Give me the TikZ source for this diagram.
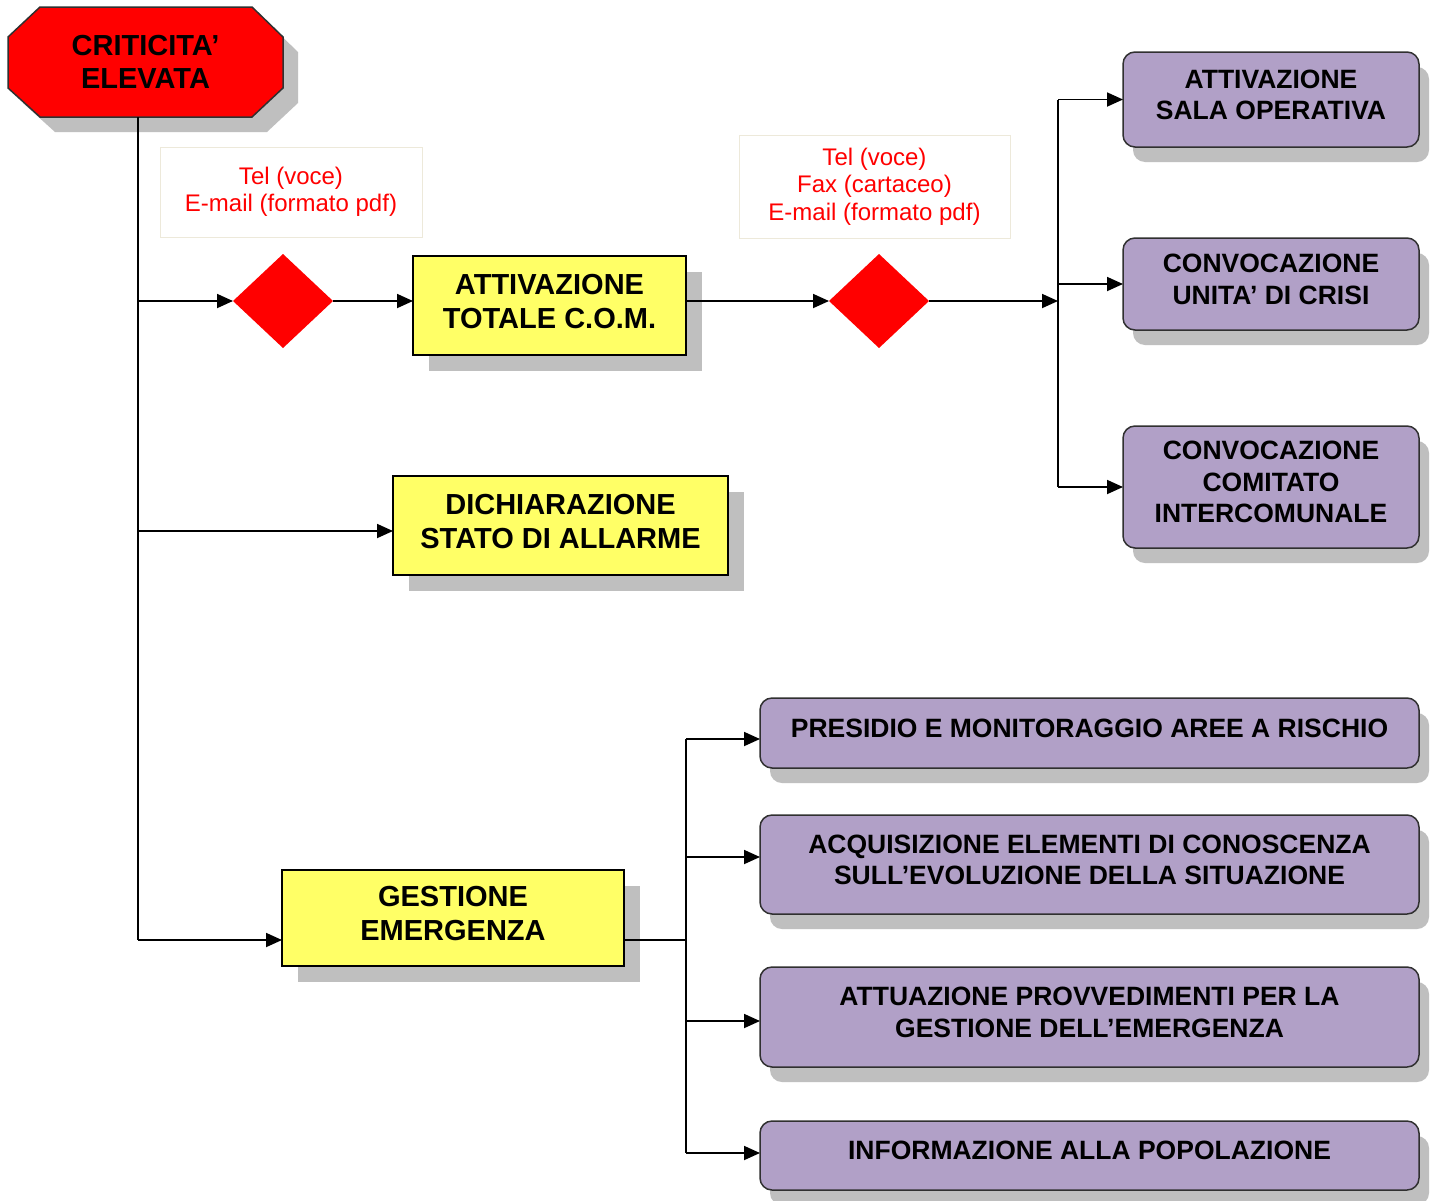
\documentclass[tikz,border=0pt]{standalone}
\usepackage{fontspec}
\setmainfont{Liberation Sans}
\usetikzlibrary{shapes.geometric,arrows.meta,calc}
\definecolor{shad}{HTML}{BFBFBF}
\definecolor{yel}{HTML}{FFFF66}
\definecolor{purp}{HTML}{B1A0C7}
\definecolor{lblborder}{HTML}{EDE9DA}
\definecolor{bord}{HTML}{303030}
\begin{document}
\begin{tikzpicture}[x=1pt,y=-1pt,
  conn/.style={draw=black,line width=1.8pt},
  arr/.style={conn,-{Triangle[length=16pt,width=14pt]}},
  ybox/.style={draw=black,line width=1.5pt,fill=yel,inner sep=0pt,outer sep=0pt,align=center,
     font=\fontsize{29}{34}\selectfont\bfseries,text depth=9pt,
     preaction={fill=shad,draw=none,transform canvas={xshift=16pt,yshift=-16pt}}},
  pbox/.style={draw=bord,line width=1.5pt,fill=purp,rounded corners=12pt,inner sep=0pt,outer sep=0pt,align=center,
     font=\fontsize{26.5}{31.5}\selectfont\bfseries,text depth=10pt,
     preaction={fill=shad,draw=none,transform canvas={xshift=10pt,yshift=-15pt}}},
  lbl/.style={draw=lblborder,line width=1pt,text=red,inner sep=0pt,align=center,
     font=\fontsize{24}{27.5}\selectfont},
  dia/.style={shape=diamond,fill=red,draw=none,inner sep=0pt,outer sep=0pt,minimum width=100pt,minimum height=94pt}
]
\useasboundingbox (0,0) rectangle (1435,1200);
\fill[white] (0,0) rectangle (1435,1200);

% octagon
\fill[shad] (55,22) -- (267,22) -- (298,52) -- (298,103) -- (267,132) -- (55,132) -- (23,103) -- (23,52) -- cycle;
\draw[bord,line width=1.5pt,fill=red] (40,7) -- (252,7) -- (283,37) -- (283,88) -- (252,117) -- (40,117) -- (8,88) -- (8,37) -- cycle;
\node[inner sep=0pt,outer sep=0pt,minimum width=275pt,minimum height=110pt,align=center,
      font=\fontsize{29}{33}\selectfont\bfseries] (crit) at (145.5,62) {CRITICITA’\\ELEVATA};

% labels
\node[lbl,minimum width=262pt,minimum height=90pt] (l1) at (291,192) {Tel (voce)\\E-mail (formato pdf)};
\node[lbl,minimum width=271pt,minimum height=103pt] (l2) at (874.5,186.5) {Tel (voce)\\Fax (cartaceo)\\E-mail (formato pdf)};

% diamonds
\node[dia] (d1) at (283,301) {};
\node[dia] (d2) at (879,301) {};

% yellow boxes
\node[ybox,minimum width=273pt,minimum height=99pt] (box1) at (549.5,305.5) {ATTIVAZIONE\\TOTALE C.O.M.};
\node[ybox,minimum width=335pt,minimum height=99pt] (dich) at (560.5,525.5) {DICHIARAZIONE\\STATO DI ALLARME};
\node[ybox,minimum width=342pt,minimum height=96pt] (gest) at (453,918) {GESTIONE\\EMERGENZA};

% purple boxes right
\node[pbox,minimum width=296pt,minimum height=95pt] (pa) at (1271,99.5) {ATTIVAZIONE\\SALA OPERATIVA};
\node[pbox,minimum width=296pt,minimum height=92pt] (pb) at (1271,284) {CONVOCAZIONE\\UNITA’ DI CRISI};
\node[pbox,minimum width=296pt,minimum height=122pt] (pc) at (1271,487) {CONVOCAZIONE\\COMITATO\\INTERCOMUNALE};

% purple boxes bottom
\node[pbox,minimum width=659pt,minimum height=70pt] (p1) at (1089.5,733) {PRESIDIO E MONITORAGGIO AREE A RISCHIO};
\node[pbox,minimum width=659pt,minimum height=99pt] (p2) at (1089.5,864.5) {ACQUISIZIONE ELEMENTI DI CONOSCENZA\\SULL’EVOLUZIONE DELLA SITUAZIONE};
\node[pbox,minimum width=659pt,minimum height=100pt] (p3) at (1089.5,1017) {ATTUAZIONE PROVVEDIMENTI PER LA\\GESTIONE DELL’EMERGENZA};
\node[pbox,minimum width=659pt,minimum height=69pt] (p4) at (1089.5,1155.5) {INFORMAZIONE ALLA POPOLAZIONE};

% helper coordinates
\coordinate (t) at (138,0);
\coordinate (r) at (1058,0);
\coordinate (b) at (686,0);
\coordinate (din) at ([yshift=-5.5pt]dich.west);
\coordinate (gin) at ([yshift=-22pt]gest.west);
\coordinate (gout) at ([yshift=-22pt]gest.east);
\coordinate (p1in) at ([yshift=-6pt]p1.west);
\coordinate (p2in) at ([yshift=7.5pt]p2.west);
\coordinate (p3in) at ([yshift=-4pt]p3.west);
\coordinate (p4in) at ([yshift=2.5pt]p4.west);

% trunk
\draw[conn] (crit.south -| t) -- (gin -| t);
\draw[arr] (t |- d1.west) -- (d1.west);
\draw[arr] (d1.east) -- (box1.west |- d1.east);
\draw[arr] (box1.east |- d2.west) -- (d2.west);
\draw[arr] (d2.east) -- (r |- d2.east);
\draw[arr] (t |- din) -- (din);
\draw[arr] (t |- gin) -- (gin);

% right fan
\draw[conn] (r |- pa.west) -- (r |- pc.west);
\draw[arr] (r |- pa.west) -- (pa.west);
\draw[arr] (r |- pb.west) -- (pb.west);
\draw[arr] (r |- pc.west) -- (pc.west);

% bottom fan
\draw[conn] (gout) -- (b |- gout);
\draw[conn] (b |- p1in) -- (b |- p4in);
\draw[arr] (b |- p1in) -- (p1in);
\draw[arr] (b |- p2in) -- (p2in);
\draw[arr] (b |- p3in) -- (p3in);
\draw[arr] (b |- p4in) -- (p4in);
\end{tikzpicture}
\end{document}
